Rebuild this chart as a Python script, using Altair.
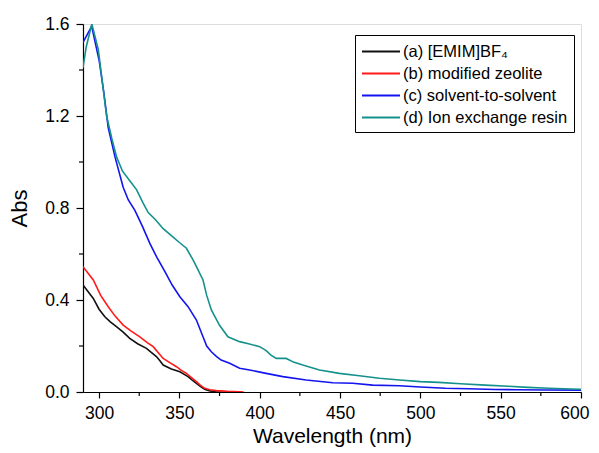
import altair as alt
import pandas as pd

# ---- data ----
series_names = ["(a) [EMIM]BF\u2084", "(b) modified zeolite", "(c) solvent-to-solvent", "(d) Ion exchange resin"]
series_colors = ["#111111", "#ff1a1a", "#1414f0", "#14918c"]

wl_a = [290, 296.4, 300, 303.6, 307, 310.8, 315, 319.1, 324, 329.5, 332.5, 335.7, 338, 339.9, 345,
        350.3, 355.4, 358, 360.6, 363, 365.7, 369, 373, 380]
abs_a = [0.465, 0.407, 0.36, 0.327, 0.305, 0.284, 0.26, 0.233, 0.21, 0.19, 0.172, 0.154, 0.135, 0.117, 0.10,
         0.088, 0.067, 0.052, 0.038, 0.025, 0.012, 0.005, 0.001, 0.0]

wl_b = [290, 296.4, 301, 305.7, 310, 315, 320, 325.4, 330, 333.7, 337, 339.9, 344, 348.2, 351, 354.4,
        357.5, 360.6, 363, 365.7, 369, 373, 380, 387.5, 390]
abs_b = [0.545, 0.487, 0.42, 0.371, 0.33, 0.291, 0.265, 0.24, 0.215, 0.197, 0.17, 0.146, 0.128, 0.110, 0.095,
         0.081, 0.063, 0.045, 0.03, 0.016, 0.01, 0.006, 0.003, 0.001, 0.0]

wl_c = [290, 295.4, 300.1, 303, 305.7, 310, 315, 318.2, 322.3, 327, 331.6, 336, 341, 345.5, 350.3, 355.4,
        360.6, 364.7, 367, 369.9, 373, 376, 381.3, 387.5, 393.7, 404, 414.4, 428.9, 445.5, 457.9, 470.3,
        487, 500, 515.5, 530, 546.6, 560, 577.6, 600]
abs_c = [1.52, 1.59, 1.44, 1.30, 1.15, 1.02, 0.89, 0.835, 0.79, 0.72, 0.646, 0.585, 0.523, 0.465, 0.414, 0.371,
         0.313, 0.24, 0.20, 0.175, 0.155, 0.139, 0.125, 0.103, 0.096, 0.081, 0.067, 0.052, 0.040, 0.038, 0.030,
         0.027, 0.022, 0.016, 0.014, 0.011, 0.010, 0.009, 0.008]

wl_d = [290, 292, 295.5, 299.5, 302, 304.7, 308, 311, 314.6, 319, 323.3, 327.5, 330.6, 335, 339.9, 345, 350,
        354.4, 358.5, 361, 364.7, 367, 369.9, 375, 380.2, 387.5, 393, 400, 404, 407, 410.3, 416.5, 421,
        426.8, 437.2, 449.6, 462, 474.5, 487, 500, 511.4, 525, 540.4, 555, 567, 580, 594, 600]
abs_d = [1.41, 1.50, 1.60, 1.49, 1.35, 1.20, 1.10, 1.02, 0.96, 0.92, 0.88, 0.82, 0.78, 0.75, 0.71, 0.68, 0.65,
         0.625, 0.574, 0.54, 0.487, 0.42, 0.357, 0.29, 0.24, 0.219, 0.21, 0.197, 0.18, 0.16, 0.146, 0.146, 0.13,
         0.117, 0.096, 0.081, 0.071, 0.06, 0.052, 0.045, 0.042, 0.036, 0.030, 0.025, 0.020, 0.016, 0.013, 0.012]

x_major = [300, 350, 400, 450, 500, 550, 600]
x_minor = [325, 375, 425, 475, 525, 575]
y_major = [0.0, 0.4, 0.8, 1.2, 1.6]
y_minor = [0.2, 0.6, 1.0, 1.4]

# ---- build tables ----
frames = []
for name, wl, ab in zip(series_names, [wl_a, wl_b, wl_c, wl_d], [abs_a, abs_b, abs_c, abs_d]):
    frames.append(pd.DataFrame({"wl": wl, "abs": ab, "series": name}))
df = pd.concat(frames, ignore_index=True)
df["order"] = df.index

FONT = "Liberation Sans"
W, H = 498, 368

xscale = alt.Scale(domain=[290, 600], nice=False, zero=False)
yscale = alt.Scale(domain=[0, 1.6], nice=False, zero=False)

lines = alt.Chart(df).mark_line(strokeWidth=1.6, clip=True).encode(
    x=alt.X("wl:Q", scale=xscale,
            axis=alt.Axis(title="Wavelength (nm)", values=x_major, format="d", grid=False,
                          tickSize=6, tickColor="black", domainColor="black", labelFontSize=17.5,
                          labelPadding=6, titleFontSize=21, titlePadding=4, labelFont=FONT,
                          titleFont=FONT, titleFontWeight="normal", labelColor="black",
                          titleColor="black", labelFlush=True, labelFlushOffset=8,
                          tickWidth=1.2, domainWidth=1.2)),
    y=alt.Y("abs:Q", scale=yscale,
            axis=alt.Axis(title="Abs", values=y_major, format=".1f", grid=False,
                          tickSize=7, tickColor="black", domainColor="black", labelFontSize=17.5,
                          labelPadding=7, titleFontSize=22, titlePadding=13, labelFont=FONT,
                          titleFont=FONT, titleFontWeight="normal", labelColor="black",
                          titleColor="black", labelFlush=False, tickWidth=1.2, domainWidth=1.2)),
    color=alt.Color("series:N", sort=series_names,
                    scale=alt.Scale(domain=series_names, range=series_colors),
                    legend=alt.Legend(title=None, orient="none", legendX=272, legendY=11,
                                      symbolType="M-1,0H3", symbolSize=361, symbolStrokeWidth=2,
                                      labelFontSize=16.5, labelFont=FONT, labelColor="black",
                                      labelLimit=0, strokeColor="black", fillColor="white",
                                      padding=6, rowPadding=3, labelOffset=21,
                                      offset=0)),
    order="order:Q",
    detail="series:N",
)

minor_x_df = pd.DataFrame({"wl": x_minor})
minor_x = alt.Chart(minor_x_df).mark_rule(color="black", strokeWidth=1.2, clip=False).encode(
    x=alt.X("wl:Q", scale=xscale), y=alt.value(H), y2=alt.value(H + 4))

minor_y_df = pd.DataFrame({"abs": y_minor})
minor_y = alt.Chart(minor_y_df).mark_rule(color="black", strokeWidth=1.2, clip=False).encode(
    y=alt.Y("abs:Q", scale=yscale), x=alt.value(0), x2=alt.value(-4))

chart = alt.layer(lines, minor_x, minor_y).properties(
    width=W, height=H,
    autosize=alt.AutoSizeParams(type="none"),
    padding={"left": 75, "top": 16, "right": 10, "bottom": 56},
).configure_view(stroke="black", strokeWidth=1.2).configure(background="white")

chart.save("out.html", embed_options={"renderer": "svg", "actions": False})
